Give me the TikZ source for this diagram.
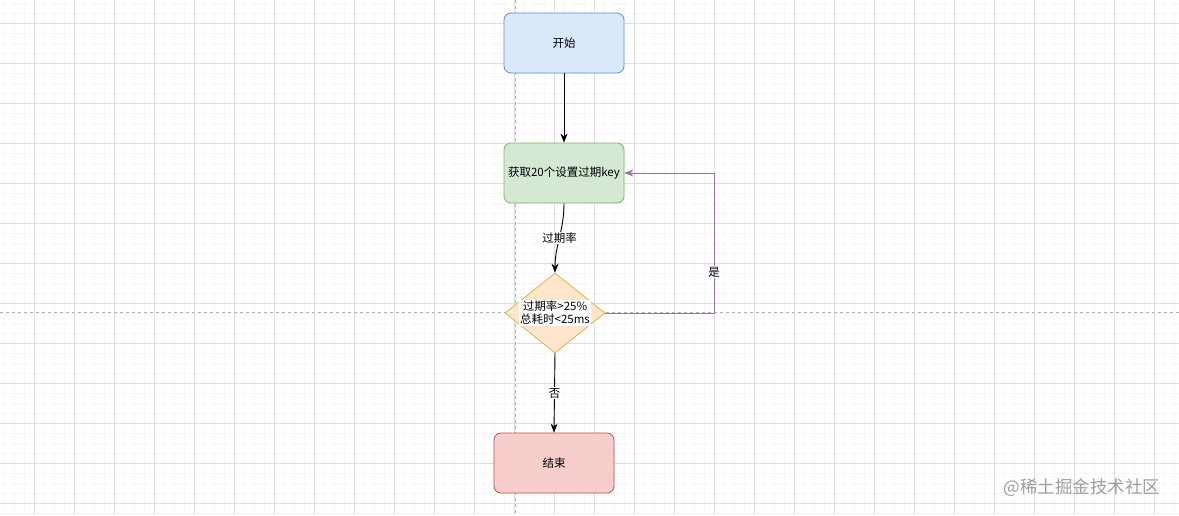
\documentclass[tikz,border=0pt]{standalone}
\usepackage{fontspec}
\setmainfont{Noto Sans CJK SC}
\usetikzlibrary{shapes.geometric,arrows.meta}

\definecolor{startfill}{HTML}{DAE8FC}
\definecolor{startline}{HTML}{6C8EBF}
\definecolor{fetchfill}{HTML}{D5E8D4}
\definecolor{fetchline}{HTML}{82B366}
\definecolor{checkfill}{HTML}{FFE6CC}
\definecolor{checkline}{HTML}{D6B656}
\definecolor{endfill}{HTML}{F8CECC}
\definecolor{endline}{HTML}{B85450}
\definecolor{loopline}{HTML}{9673A6}
\definecolor{gridminor}{HTML}{F6F6F6}
\definecolor{gridmajor}{HTML}{DEDEDE}

\tikzset{
  box/.style={rectangle, rounded corners=7pt, draw, line width=0.8pt,
    minimum width=120pt, minimum height=60pt, inner sep=0pt,
    font=\fontsize{11.5}{13}\selectfont},
  decision/.style={diamond, draw, line width=0.8pt, fill=checkfill, draw=checkline,
    minimum width=100pt, minimum height=80pt, inner sep=0pt},
  flow/.style={line width=0.9pt, -{Stealth[length=9pt,width=7pt]}},
  lbl/.style={fill=white, text=black, inner sep=1pt, font=\fontsize{11.5}{13}\selectfont}
}

\begin{document}
\begin{tikzpicture}[x=1pt, y=-1pt]
    \useasboundingbox[fill=white] (0,0) rectangle (1179,515);

    % grid
    \foreach \x in {4,14,...,1179} \draw[gridminor, line width=0.6pt] (\x,0) -- (\x,515);
    \foreach \y in {3,13,...,515} \draw[gridminor, line width=0.6pt] (0,\y) -- (1179,\y);
    \foreach \x in {34,74,...,1179} \draw[gridmajor, line width=0.8pt] (\x,0) -- (\x,515);
    \foreach \y in {23,63,...,515} \draw[gridmajor, line width=0.8pt] (0,\y) -- (1179,\y);
    \draw[gray!60, dashed, line width=0.7pt] (515,0) -- (515,515);
    \draw[gray!60, dashed, line width=0.7pt] (0,312) -- (1179,312);

    % nodes
    \node[box, fill=startfill, draw=startline] (start) at (564,43) {开始};
    \node[box, fill=fetchfill, draw=fetchline] (fetch) at (564,173) {获取20个设置过期key};
    \node[decision] (check) at (555,313) {};
    \node[lbl, align=center] (checktext) at (555,313) {过期率>25\%\\总耗时<25ms};
    \node[box, fill=endfill, draw=endline] (finish) at (554,463) {结束};

    % edges
    \draw[flow] (start) -- (fetch);
    \draw[flow] (fetch.south) to[out=-90, in=90] node[lbl] {过期率} (check.north);
    \draw[flow, loopline] (check.east) -- (714,313) -- node[lbl, pos=0.29] {是} (714,173) -- (fetch.east);
    \draw[flow] (check.south) -- node[lbl] {否} (finish.north);

    % watermark
    \node[text=gray!75, font=\fontsize{17.5}{20}\selectfont] (mark) at (1082,488) {@稀土掘金技术社区};
\end{tikzpicture}
\end{document}
